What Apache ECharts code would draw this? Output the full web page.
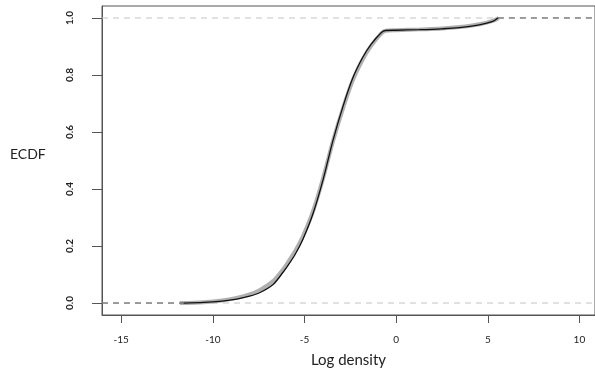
<!DOCTYPE html>
<html><head><meta charset="utf-8">
<script src="https://cdn.jsdelivr.net/npm/echarts@6/dist/echarts.min.js"></script>
<style>html,body{margin:0;padding:0;background:#fff}#c{width:595px;height:377px}</style>
</head><body><div id="c"></div>
<script>
// Black ECDF curve (log density, cumulative proportion)
const blackX = [-11.6,-10.5,-9.5,-8.7,-8.0,-7.45,-6.7,-6.17,-5.9,-5.5,-5.08,-4.53,-3.99,-3.45,-2.9,-2.36,-1.82,-1.37,-0.82,-0.58,0.0,1.27,2.5,3.45,4.54,5.27,5.55];
const blackY = [0.000,0.002,0.007,0.014,0.024,0.036,0.066,0.108,0.132,0.172,0.225,0.315,0.432,0.57,0.69,0.79,0.862,0.907,0.948,0.956,0.957,0.959,0.962,0.966,0.976,0.988,1.0];
// Gray (reference) ECDF band
const grayX = [-11.8,-10.5,-9.5,-8.7,-8.0,-7.45,-6.7,-6.17,-5.9,-5.5,-5.08,-4.53,-3.99,-3.45,-2.9,-2.36,-1.82,-1.37,-0.82,-0.58,0.0,1.27,2.5,3.45,4.54,5.27,5.6];
const grayY = [0.000,0.003,0.009,0.018,0.030,0.045,0.078,0.118,0.143,0.183,0.235,0.323,0.437,0.567,0.683,0.782,0.855,0.902,0.945,0.955,0.957,0.960,0.963,0.968,0.978,0.99,1.0];
const xTicks = [-15,-10,-5,0,5,10];
const yTicks = [0,0.2,0.4,0.6,0.8,1.0];
const xRange = [-16.05, 10.85];
const yRange = [-0.042, 1.042];

const zip = (a,b) => a.map((v,i)=>[v,b[i]]);
const chart = echarts.init(document.getElementById('c'), null, {renderer:'canvas'});
const axisCol = '#555';
chart.setOption({
  animation:false,
  grid:{left:102, top:6, right:-1, bottom:62, show:true, borderColor:axisCol, borderWidth:1},
  graphic:[{type:'text', left:10, top:147, style:{text:'ECDF', font:'14px Lato, "Open Sans", sans-serif', fill:'#222'}}],
  xAxis:{type:'value', min:xRange[0], max:xRange[1],
    name:'Log density', nameLocation:'middle', nameGap:38,
    nameTextStyle:{fontSize:15, fontFamily:'Lato, "Open Sans", sans-serif', color:'#222'},
    axisLine:{show:true, onZero:false, lineStyle:{color:axisCol}},
    axisTick:{show:true, length:8, customValues:xTicks, lineStyle:{color:axisCol}},
    axisLabel:{customValues:xTicks, margin:20, fontSize:10, fontFamily:'Lato, "Open Sans", sans-serif', color:'#222'},
    splitLine:{show:false}},
  yAxis:{type:'value', min:yRange[0], max:yRange[1],
    axisLine:{show:true, onZero:false, lineStyle:{color:axisCol}},
    axisTick:{show:true, length:10, customValues:yTicks, lineStyle:{color:axisCol}},
    axisLabel:{customValues:yTicks, rotate:90, margin:27, fontSize:10, fontWeight:'bold', fontFamily:'Lato, "Open Sans", sans-serif', color:'#222',
      formatter:v=>v.toFixed(1)},
    splitLine:{show:false}},
  series:[
    {type:'line', data:[[xRange[0],0],[xRange[1],0]], symbol:'none', silent:true,
     lineStyle:{color:'#c4c4c4', width:1, type:[6,5]}, z:1},
    {type:'line', data:[[xRange[0],1],[xRange[1],1]], symbol:'none', silent:true,
     lineStyle:{color:'#c4c4c4', width:1, type:[6,5]}, z:1},
    {type:'line', data:zip(grayX,grayY), symbol:'none', smooth:0.3,
     lineStyle:{color:'#b0b0b0', width:4}, z:2},
    {type:'line', data:zip(blackX,blackY), symbol:'none', smooth:0.3,
     lineStyle:{color:'#111', width:1.3}, z:3},
    {type:'line', data:[[xRange[0],0],[blackX[0],0]], symbol:'none',
     lineStyle:{color:'#555', width:1, type:[6,5]}, z:3},
    {type:'line', data:[[blackX[blackX.length-1],1],[xRange[1],1]], symbol:'none',
     lineStyle:{color:'#555', width:1, type:[6,5]}, z:3}
  ]
});
</script></body></html>
